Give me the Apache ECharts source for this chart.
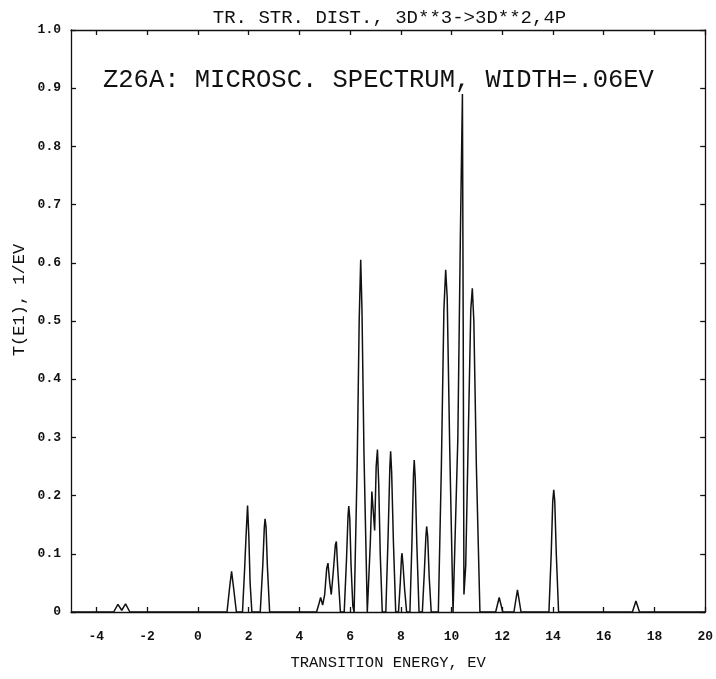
<!DOCTYPE html>
<html>
<head>
<meta charset="utf-8">
<script src="https://cdn.jsdelivr.net/npm/echarts@6/dist/echarts.min.js"></script>
<style>html,body{margin:0;padding:0;background:#fff}#c{width:716px;height:679px}</style>
</head>
<body>
<div id="c"></div>
<script>
// Transition energy (eV) and T(E1) (1/eV)
const energy = [
  -5,
  -3.32, -3.15, -3.0, -2.85, -2.68,
  1.15, 1.26, 1.33, 1.40, 1.52,
  1.76, 1.84, 1.9, 1.96, 2.01, 2.06, 2.13,
  2.46, 2.56, 2.62, 2.65, 2.69, 2.74, 2.83,
  4.68, 4.78, 4.84, 4.92, 5.0, 5.08, 5.13, 5.2, 5.26, 5.34, 5.42, 5.46, 5.52, 5.62,
  5.77, 5.86, 5.92, 5.95, 5.99, 6.04, 6.11,
  6.16, 6.28, 6.36, 6.42, 6.47, 6.55, 6.68,
  6.72, 6.8, 6.86, 6.92, 6.97, 7.03, 7.08, 7.13, 7.19, 7.27,
  7.41, 7.5, 7.57, 7.6, 7.64, 7.71, 7.8,
  7.91, 7.98, 8.03, 8.05, 8.09, 8.15, 8.23,
  8.36, 8.44, 8.5, 8.53, 8.57, 8.63, 8.72,
  8.85, 8.93, 8.99, 9.02, 9.06, 9.12, 9.2,
  9.48, 9.6, 9.7, 9.77, 9.83, 9.93, 10.06,
  10.13, 10.25, 10.35, 10.43, 10.46, 10.49, 10.56, 10.66, 10.76, 10.82, 10.88, 10.98, 11.12,
  11.74, 11.88, 12.02,
  12.46, 12.6, 12.74,
  13.84, 13.93, 13.99, 14.03, 14.07, 14.13, 14.22,
  17.13, 17.27, 17.41,
  20
];
const intensity = [
  0,
  0, 0.013, 0.003, 0.014, 0,
  0, 0.045, 0.07, 0.045, 0,
  0, 0.07, 0.13, 0.183, 0.13, 0.05, 0,
  0, 0.08, 0.145, 0.16, 0.145, 0.08, 0,
  0, 0.015, 0.025, 0.012, 0.03, 0.075, 0.084, 0.05, 0.03, 0.07, 0.115, 0.121, 0.07, 0,
  0, 0.09, 0.165, 0.182, 0.16, 0.08, 0.01,
  0, 0.25, 0.5, 0.605, 0.52, 0.27, 0,
  0, 0.12, 0.207, 0.17, 0.14, 0.25, 0.279, 0.22, 0.1, 0,
  0, 0.13, 0.25, 0.276, 0.24, 0.12, 0,
  0, 0.05, 0.095, 0.101, 0.08, 0.04, 0,
  0, 0.12, 0.235, 0.261, 0.23, 0.12, 0,
  0, 0.07, 0.13, 0.147, 0.13, 0.06, 0,
  0, 0.25, 0.52, 0.588, 0.54, 0.28, 0,
  0, 0.3, 0.65, 0.89, 0.5, 0.03, 0.08, 0.3, 0.52, 0.556, 0.5, 0.25, 0,
  0, 0.025, 0,
  0, 0.038, 0,
  0, 0.1, 0.19, 0.21, 0.19, 0.1, 0,
  0, 0.019, 0,
  0
];
const xTicks = [-4, -2, 0, 2, 4, 6, 8, 10, 12, 14, 16, 18, 20];
const titleText = 'TR. STR. DIST., 3D**3->3D**2,4P';
const noteText = 'Z26A: MICROSC. SPECTRUM, WIDTH=.06EV';
const xName = 'TRANSITION ENERGY, EV';
const yName = 'T(E1), 1/EV';

const FONT = '"Liberation Mono", "DejaVu Sans Mono", monospace';
const ink = '#111';
const chart = echarts.init(document.getElementById('c'), null, {renderer: 'canvas'});
const grid = {left: 71, right: 8, top: 30, bottom: 67};
const plotW = 716 - grid.left - grid.right;

const lineStyle = {color: ink, width: 1.3};
chart.setOption({
  backgroundColor: '#fff',
  animation: false,
  grid: grid,
  graphic: [
    {type: 'text', x: grid.left + plotW / 2, y: 18,
     style: {text: titleText, font: '19px ' + FONT, fill: ink, textAlign: 'center', textVerticalAlign: 'middle'}},
    {type: 'text', x: 103, y: 80,
     style: {text: noteText, font: '25.5px ' + FONT, fill: ink, textVerticalAlign: 'middle'}},
    {type: 'text', x: 19, y: 300, rotation: Math.PI / 2,
     style: {text: yName, font: '17px ' + FONT, fill: ink, textAlign: 'center', textVerticalAlign: 'middle'}}
  ],
  xAxis: [
    {type: 'value', min: -5, max: 20, position: 'bottom',
     name: xName, nameLocation: 'middle', nameGap: 43,
     nameTextStyle: {fontFamily: FONT, fontSize: 15.5, color: ink},
     axisLine: {onZero: false, lineStyle: lineStyle},
     axisTick: {inside: true, length: 5, lineStyle: lineStyle, customValues: xTicks},
     axisLabel: {customValues: xTicks, margin: 18, fontFamily: FONT, fontWeight: 'bold', fontSize: 13, color: ink},
     splitLine: {show: false}},
    {type: 'value', min: -5, max: 20, position: 'top',
     axisLine: {onZero: false, lineStyle: lineStyle},
     axisTick: {inside: true, length: 5, lineStyle: lineStyle, customValues: xTicks},
     axisLabel: {show: false},
     splitLine: {show: false}}
  ],
  yAxis: [
    {type: 'value', min: 0, max: 1, interval: 0.1, position: 'left',
     axisLine: {show: true, onZero: false, lineStyle: lineStyle},
     axisTick: {inside: true, length: 5, lineStyle: lineStyle},
     axisLabel: {margin: 10, fontFamily: FONT, fontWeight: 'bold', fontSize: 13, color: ink,
       formatter: v => (v === 0 ? '0' : v.toFixed(1))},
     splitLine: {show: false}},
    {type: 'value', min: 0, max: 1, interval: 0.1, position: 'right',
     axisLine: {show: true, onZero: false, lineStyle: lineStyle},
     axisTick: {inside: true, length: 5, lineStyle: lineStyle},
     axisLabel: {show: false},
     splitLine: {show: false}}
  ],
  series: [{
    type: 'line',
    data: energy.map((e, i) => [e, intensity[i]]),
    showSymbol: false,
    lineStyle: {color: ink, width: 1.5},
    z: 5
  }]
});
</script>
</body>
</html>
